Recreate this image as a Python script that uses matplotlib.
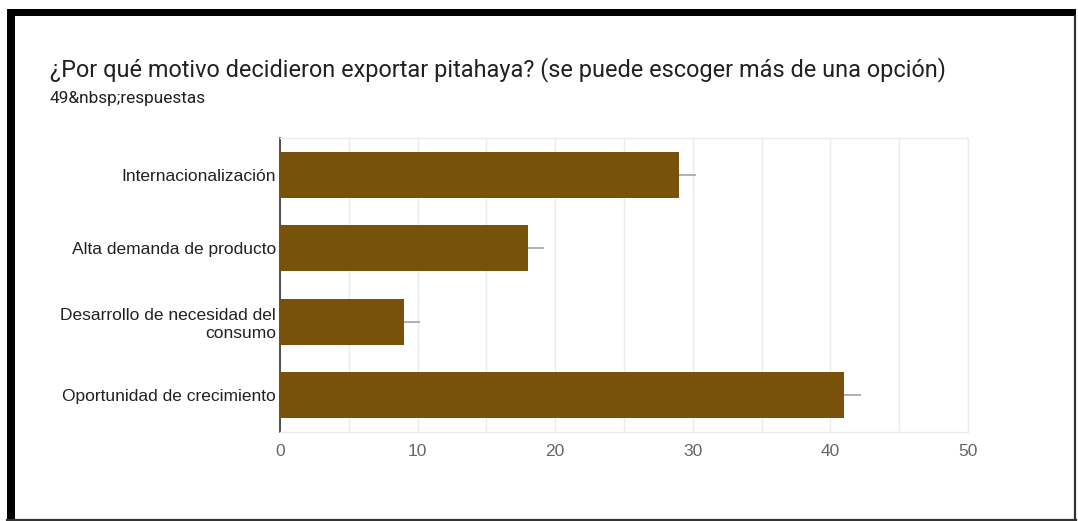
import matplotlib.pyplot as plt
from matplotlib.patches import Rectangle
from matplotlib.lines import Line2D

categories = [
    "Internacionalización",
    "Alta demanda de producto",
    "Desarrollo de necesidad del\nconsumo",
    "Oportunidad de crecimiento",
]
counts = [29, 18, 9, 41]
x_ticks = [0, 10, 20, 30, 40, 50]

title = "¿Por qué motivo decidieron exportar pitahaya? (se puede escoger más de una opción)"
subtitle = "49&nbsp;respuestas"

bar_color = "#78520a"
whisker = 1.2  # length of the small gray tail after each bar

W, H = 1078, 521
fig = plt.figure(figsize=(W / 100, H / 100), dpi=100)
fig.patch.set_facecolor("white")

# card frame: thick black on the left/top, thin on right/bottom
fig.add_artist(Rectangle((7 / W, 1 - 520 / H), 8 / W, 511 / H,
                         transform=fig.transFigure, color="black", lw=0))
fig.add_artist(Rectangle((7 / W, 1 - 16 / H), 1069 / W, 7 / H,
                         transform=fig.transFigure, color="black", lw=0))
fig.add_artist(Line2D([1075 / W, 1075 / W], [1 - 16 / H, 1 - 519.5 / H],
                      transform=fig.transFigure, color="#333333", lw=1.6))
fig.add_artist(Line2D([7 / W, 1076 / W], [1 - 519.5 / H, 1 - 519.5 / H],
                      transform=fig.transFigure, color="#333333", lw=1.6))

fig.text(50 / W, 1 - 70 / H, title, fontsize=16.9, family="Roboto",
         color="#202124", va="center", ha="left")
fig.text(50 / W, 1 - 98 / H, subtitle, fontsize=12.4, family="Roboto",
         color="#202124", va="center", ha="left")

ax = fig.add_axes([280 / W, 1 - 432 / H, 688 / W, 294 / H])
y = list(range(len(categories)))
ax.barh(y, counts, height=0.63, color=bar_color, zorder=3)
ax.hlines(y, counts, [c + whisker for c in counts], color="#aaaaaa", lw=1.3, zorder=2)

ax.set_xlim(0, 50)
ax.set_ylim(3.5, -0.5)
ax.set_xticks(x_ticks)
ax.set_xticks([5, 15, 25, 35, 45], minor=True)
ax.set_yticks(y)
ax.set_yticklabels(categories, fontsize=12.5, family="Liberation Sans", color="#222222")
for lbl in ax.get_xticklabels():
    lbl.set_fontsize(12.5)
    lbl.set_family("Liberation Sans")
    lbl.set_color("#666666")

ax.grid(axis="x", which="both", color="#ebebeb", lw=1, zorder=0)
ax.tick_params(axis="both", which="both", length=0)
ax.tick_params(axis="x", pad=9)
ax.tick_params(axis="y", pad=3)

for side in ["top", "right", "bottom"]:
    ax.spines[side].set_color("#ebebeb")
    ax.spines[side].set_linewidth(1)
ax.spines["left"].set_color("#333333")
ax.spines["left"].set_linewidth(1.2)

fig.savefig("out.png", dpi=100)
